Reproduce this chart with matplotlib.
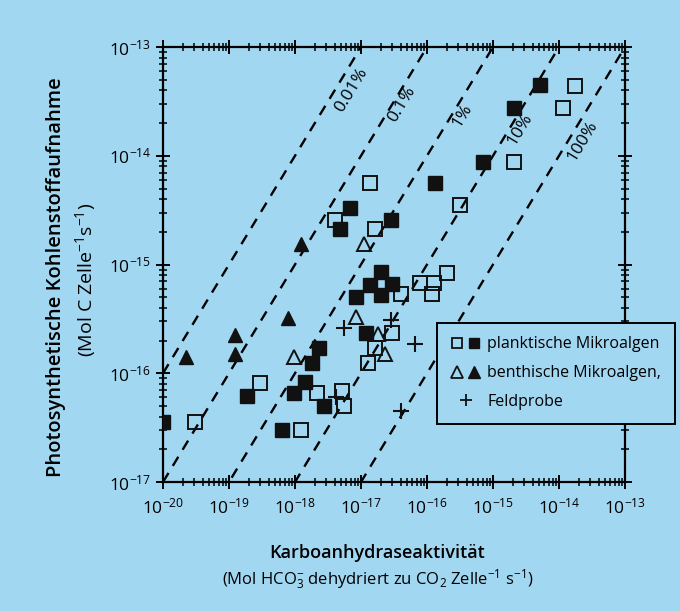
import numpy as np
import matplotlib
matplotlib.use("Agg")
import matplotlib.pyplot as plt
from matplotlib.lines import Line2D
from matplotlib.legend_handler import HandlerTuple
from matplotlib.ticker import NullFormatter

plt.rcParams['font.family'] = ['Open Sans', 'DejaVu Sans']
plt.rcParams['mathtext.fontset'] = 'custom'
plt.rcParams['mathtext.rm'] = 'Open Sans'
plt.rcParams['mathtext.it'] = 'Open Sans:italic'
plt.rcParams['mathtext.bf'] = 'Open Sans:bold'

bg = '#a2d7f1'

# planktische Mikroalgen, gefuellt
pf_x = [1.0e-20, 1.86e-19, 6.3e-19, 9.5e-19, 1.41e-18, 1.78e-18, 2.3e-18, 2.75e-18,
        4.8e-18, 6.9e-18, 1.2e-17, 8.5e-18, 1.35e-17, 2.04e-17, 2.04e-17, 3.0e-17,
        2.8e-17, 1.32e-16, 7.1e-16, 2.1e-15, 5.1e-15]
pf_y = [3.6e-17, 6.2e-17, 3.0e-17, 6.6e-17, 8.3e-17, 1.23e-16, 1.7e-16, 5.0e-17,
        2.14e-15, 3.3e-15, 2.34e-16, 5.0e-16, 6.5e-16, 8.5e-16, 5.2e-16, 6.6e-16,
        2.57e-15, 5.6e-15, 8.7e-15, 2.75e-14, 4.5e-14]
# planktische Mikroalgen, offen
po_x = [3.1e-20, 2.9e-19, 1.23e-18, 2.14e-18, 5.1e-18, 5.5e-18, 1.26e-17, 1.62e-17,
        2.9e-17, 4.0e-18, 1.38e-17, 1.62e-17, 4.0e-17, 7.9e-17, 1.26e-16, 1.2e-16,
        2.04e-16, 3.16e-16, 2.1e-15, 1.17e-14, 1.74e-14]
po_y = [3.6e-17, 8.1e-17, 3.0e-17, 6.6e-17, 6.8e-17, 5.0e-17, 1.23e-16, 1.7e-16,
        2.34e-16, 2.57e-15, 5.6e-15, 2.14e-15, 5.4e-16, 6.8e-16, 6.8e-16, 5.4e-16,
        8.3e-16, 3.55e-15, 8.7e-15, 2.75e-14, 4.4e-14]
# benthische Mikroalgen
bf_x = [2.24e-20, 1.23e-19, 1.23e-19, 7.8e-19, 1.23e-18]
bf_y = [1.41e-16, 1.51e-16, 2.24e-16, 3.2e-16, 1.55e-15]
bo_x = [9.5e-19, 1.1e-17, 8.5e-18, 1.78e-17, 2.3e-17]
bo_y = [1.41e-16, 1.55e-15, 3.3e-16, 2.3e-16, 1.51e-16]
# Feldprobe
fp_x = [5.5e-18, 2.8e-17, 6.6e-17, 4.0e-17, 4.2e-18]
fp_y = [2.63e-16, 3.1e-16, 1.86e-16, 4.5e-17, 6.0e-17]

# Verhaeltnislinien
ratio_pct = [0.01, 0.1, 1, 10, 100]
ratio_lbl = ['0.01%', '0.1%', '1%', '10%', '100%']
lbl_x = [7.2e-18, 4.2e-17, 3.4e-16, 2.6e-15, 2.3e-14]
lbl_y = [4.0e-14, 2.95e-14, 2.35e-14, 1.75e-14, 1.38e-14]

x_ticks = [1e-20, 1e-19, 1e-18, 1e-17, 1e-16, 1e-15, 1e-14, 1e-13]
y_ticks = [1e-17, 1e-16, 1e-15, 1e-14, 1e-13]

fig = plt.figure(figsize=(6.8, 6.11), dpi=100)
fig.patch.set_facecolor(bg)
ax = fig.add_axes([0.2397, 0.2111, 0.6794, 0.7119])
ax.set_facecolor(bg)
ax.set_xscale('log')
ax.set_yscale('log')
ax.set_xticks(x_ticks)
ax.set_yticks(y_ticks)
ax.set_xlim(1e-20, 1e-13)
ax.set_ylim(1e-17, 1e-13)
ax.xaxis.set_minor_formatter(NullFormatter())
ax.yaxis.set_minor_formatter(NullFormatter())

xx = np.logspace(-20, -13, 50)
for p in ratio_pct:
    ax.plot(xx, xx * 100.0 / p, color='black', lw=1.7, dashes=(4.5, 3.5), zorder=1)
ang = np.degrees(np.arctan((0.7119 * 611 / 4) / (0.6794 * 680 / 7)))
for t, lx, ly in zip(ratio_lbl, lbl_x, lbl_y):
    ax.text(lx, ly, t, rotation=ang, ha='center', va='center', fontsize=12.5)

ms = 9.5
ax.plot(po_x, po_y, 's', ms=ms, mfc='none', mec='#111111', mew=1.4, zorder=3)
ax.plot(pf_x, pf_y, 's', ms=ms, mfc='#111111', mec='#111111', mew=1.0, zorder=4)
ax.plot(bo_x, bo_y, '^', ms=ms + 1, mfc='none', mec='#111111', mew=1.4, zorder=3)
ax.plot(bf_x, bf_y, '^', ms=ms + 1, mfc='#111111', mec='#111111', mew=1.0, zorder=4)
ax.plot(fp_x, fp_y, '+', ms=ms + 2, mec='#111111', mew=1.5, zorder=3)

for s in ax.spines.values():
    s.set_linewidth(1.6)
ax.tick_params(which='both', top=True, right=True)
ax.tick_params(which='major', direction='inout', length=10, width=1.4, labelsize=12.5)
ax.tick_params(which='minor', direction='inout', length=6, width=1.1)
ax.tick_params(axis='x', pad=6)

h1 = (Line2D([], [], ls='', marker='s', ms=7, mfc='none', mec='#111111', mew=1.3),
      Line2D([], [], ls='', marker='s', ms=7, mfc='#111111', mec='#111111'))
h2 = (Line2D([], [], ls='', marker='^', ms=8, mfc='none', mec='#111111', mew=1.3),
      Line2D([], [], ls='', marker='^', ms=8, mfc='#111111', mec='#111111'))
h3 = Line2D([], [], ls='', marker='+', ms=9, mec='#111111', mew=1.3)
leg = ax.legend([h1, h2, h3], ['planktische Mikroalgen', 'benthische Mikroalgen,', 'Feldprobe'],
                handler_map={tuple: HandlerTuple(ndivide=None, pad=0.3)},
                loc='upper left', bbox_to_anchor=(0.593, 0.366), borderaxespad=0,
                fontsize=11.5, fancybox=False, framealpha=1, facecolor=bg,
                edgecolor='black', handlelength=1.9, handletextpad=0.4,
                borderpad=0.85, labelspacing=0.8)
leg.get_frame().set_linewidth(1.4)
leg.set_zorder(6)

fig.text(0.082, 0.547, 'Photosynthetische Kohlenstoffaufnahme', rotation=90,
         ha='center', va='center', fontsize=14.5, fontweight='semibold')
fig.text(0.126, 0.542, '(Mol C Zelle$^{-1}$s$^{-1}$)', rotation=90,
         ha='center', va='center', fontsize=14)
fig.text(0.555, 0.095, 'Karboanhydraseaktivität', ha='center', va='center',
         fontsize=13, fontweight='semibold')
fig.text(0.556, 0.051, '(Mol HCO$_3^{-}$ dehydriert zu CO$_2$ Zelle$^{-1}$ s$^{-1}$)',
         ha='center', va='center', fontsize=12)

fig.savefig('out.png', dpi=100, facecolor=bg)
